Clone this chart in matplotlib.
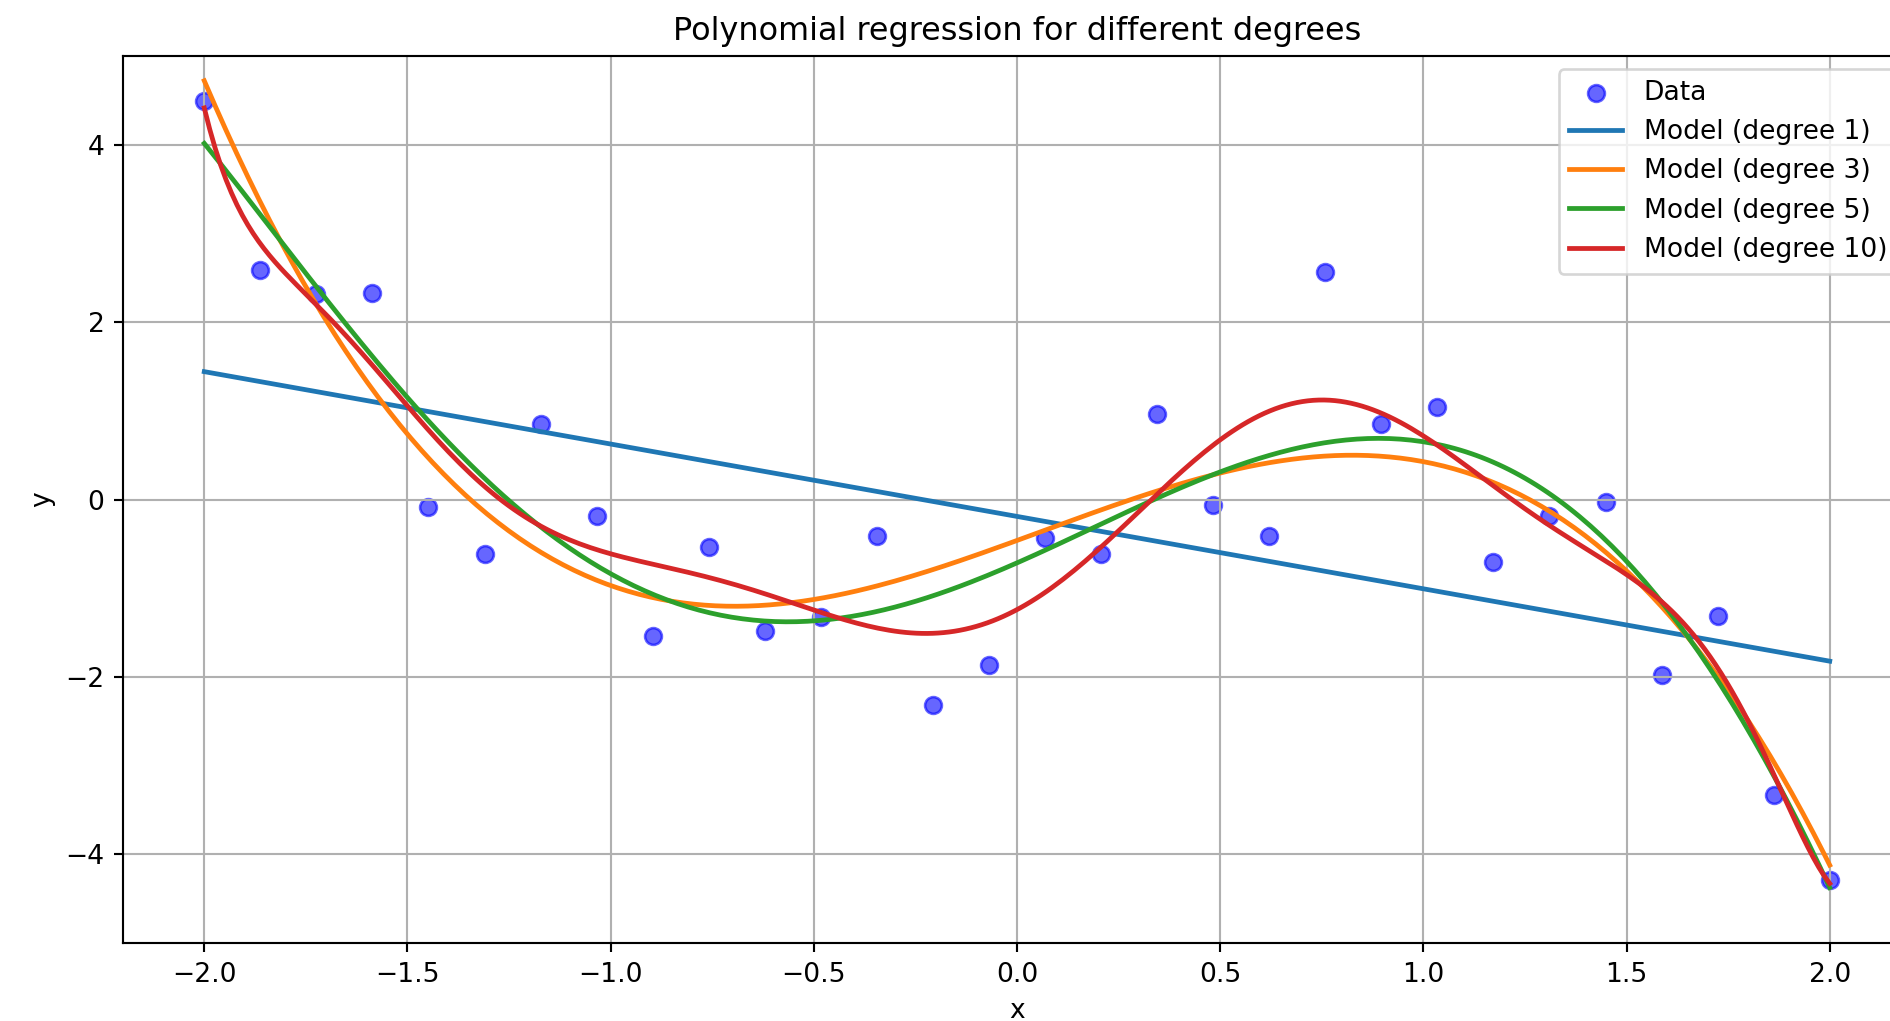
import numpy as np
import matplotlib.pyplot as plt


# pontos (30 pontos igualmente espaçados em [-2, 2])
x = np.linspace(-2, 2, 30)
y = np.array([4.49, 2.59, 2.32, 2.33, -0.09, -0.61, 0.85, -0.19, -1.54, -0.54,
              -1.48, -1.32, -0.41, -2.32, -1.87, -0.43, -0.61, 0.96, -0.06, -0.41,
              2.56, 0.85, 1.04, -0.70, -0.19, -0.03, -1.98, -1.31, -3.33, -4.29])

degrees = [1, 3, 5, 10]

DPI = 191
fig = plt.figure(figsize=(1891 / DPI, 1021 / DPI), dpi=DPI)
# eixo vai um pouco além da borda direita, como na imagem original
ax = fig.add_axes([123 / 1891, 78 / 1021, 1788 / 1891, 887 / 1021])

ax.scatter(x, y, color='blue', alpha=0.6, s=40, label='Data')

x_line = np.linspace(-2, 2, 300)
for d in degrees:
    coefs = np.polyfit(x, y, d)  # ajuste por mínimos quadrados
    ax.plot(x_line, np.polyval(coefs, x_line), linewidth=1.8, label=f'Model (degree {d})')

ax.set_xlim(-2.2, 2.2)
ax.set_ylim(-5, 5)
ax.set_xlabel('x')
ax.set_ylabel('y')
ax.set_title('Polynomial regression for different degrees')
ax.legend(loc='upper right')
ax.grid(True)

fig.savefig('out.png', dpi=DPI)
